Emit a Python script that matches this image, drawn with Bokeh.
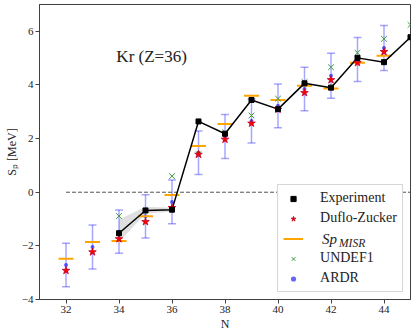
import numpy as np
from bokeh.plotting import figure
from bokeh.models import Range1d, Legend, LegendItem, Label, FixedTicker
from bokeh.embed import file_html
from bokeh.resources import INLINE

# ---------------- data ----------------
N_exp = [34, 35, 36, 37, 38, 39, 40, 41, 42, 43, 44, 45]
S_exp = [-1.53, -0.68, -0.65, 2.64, 2.18, 3.44, 3.10, 4.06, 3.90, 5.01, 4.85, 5.78]

N_band = [34, 35, 36]
band_lo = [-1.85, -0.80, -0.72]
band_hi = [-1.02, -0.54, -0.58]

N_th = [32, 33, 34, 35, 36, 37, 38, 39, 40, 41, 42, 43, 44]
S_dz = [-2.92, -2.23, -1.74, -1.10, -0.58, 1.41, 1.97, 2.57, 3.09, 3.71, 4.19, 4.83, 5.24]
S_misr = [-2.48, -1.86, -1.82, -0.90, -0.10, 1.72, 2.54, 3.60, 3.44, 3.97, 3.87, 4.83, 5.09]
S_ardr = [-2.71, -2.04, -1.47, -0.90, -0.36, 1.47, 2.08, 2.66, 3.22, 3.85, 4.34, 4.95, 5.38]
E_ardr = [0.81, 0.82, 0.81, 0.81, 0.82, 0.81, 0.82, 0.82, 0.82, 0.81, 0.84, 0.82, 0.84]

N_undef = [34, 36, 37, 38, 39, 40, 41, 42, 43, 44, 45]
S_undef = [-0.89, 0.60, 1.42, 2.24, 2.86, 3.49, 4.11, 4.66, 5.20, 5.72, 6.24]

zero_x = [32, 45]
zero_y = [0, 0]

x_ticks = [32, 34, 36, 38, 40, 42, 44]
y_ticks = [-4, -2, 0, 2, 4, 6]

title_text = "Kr (Z=36)"

FONT = "Liberation Serif"
TXT = "#222222"

# ---------------- figure ----------------
p = figure(width=415, height=333, x_range=Range1d(31, 45), y_range=Range1d(-4, 7),
           output_backend="svg", toolbar_location=None,
           min_border_left=39, min_border_right=5, min_border_top=4, min_border_bottom=34)

p.xgrid.visible = False
p.ygrid.visible = False
p.outline_line_color = "#404040"
p.outline_line_alpha = 1.0
p.background_fill_color = "white"

for ax in (p.xaxis, p.yaxis):
    ax.axis_line_color = "#404040"
    ax.major_tick_line_color = "#404040"
    ax.major_tick_in = 0
    ax.major_tick_out = 4
    ax.minor_tick_line_color = None
    ax.major_label_text_font = FONT
    ax.major_label_text_font_size = "11px"
    ax.major_label_text_color = TXT
    ax.major_label_standoff = 2
    ax.axis_label_text_font = FONT
    ax.axis_label_text_font_size = "12px"
    ax.axis_label_text_font_style = "normal"
    ax.axis_label_text_color = TXT

p.xaxis.ticker = FixedTicker(ticks=x_ticks)
p.yaxis.ticker = FixedTicker(ticks=y_ticks)
p.xaxis.major_label_overrides = {t: str(t) for t in x_ticks}
p.yaxis.major_label_overrides = {t: str(t).replace("-", "\u2212") for t in y_ticks}
p.xaxis.axis_label = "N"
p.yaxis.axis_label = "S\u209a [MeV]"
p.xaxis.axis_label_standoff = 1
p.yaxis.axis_label_standoff = 0

# ---------------- glyphs ----------------
p.varea(x=N_band, y1=band_lo, y2=band_hi, fill_color="gray", fill_alpha=0.25)
p.line(zero_x, zero_y, line_color="#555555", line_width=1, line_dash="4 2")

lo = [s - e for s, e in zip(S_ardr, E_ardr)]
hi = [s + e for s, e in zip(S_ardr, E_ardr)]
p.segment(x0=N_th, y0=lo, x1=N_th, y1=hi, line_color="blue", line_alpha=0.35, line_width=1.5)
p.scatter(N_th, lo, marker="dash", size=8, line_color="blue", line_alpha=0.35, line_width=1.5)
p.scatter(N_th, hi, marker="dash", size=8, line_color="blue", line_alpha=0.35, line_width=1.5)
ardr_dot = p.scatter(N_th, S_ardr, marker="circle", size=4, fill_color="blue", line_color=None, fill_alpha=0.6)

misr = p.scatter(N_th, S_misr, marker="dash", size=15, line_color="orange", line_width=2)

p.line(N_exp, S_exp, line_color="black", line_width=1.5)
undef = p.scatter(N_undef, S_undef, marker="x", size=8, line_color="#3a9a3a", line_width=1)
dz = p.scatter(N_th, S_dz, marker="star", size=8, fill_color="red", line_color="#c00020", line_width=0.8)
exp_sq = p.scatter(N_exp, S_exp, marker="square", size=5, fill_color="black", line_color="black")

# dummy renderers used only for legend entries
misr_leg = p.line([np.nan], [np.nan], line_color="orange", line_width=2)
blank_leg = p.line([np.nan], [np.nan], line_alpha=0)

p.add_layout(Label(x=33.9, y=4.69, text=title_text, text_font=FONT,
                   text_font_size="17px", text_color=TXT))

legend = Legend(items=[
    LegendItem(label="Experiment", renderers=[exp_sq]),
    LegendItem(label="Duflo-Zucker", renderers=[dz]),
    LegendItem(label=" ", renderers=[misr_leg]),
    LegendItem(label="UNDEF1", renderers=[undef]),
    LegendItem(label="ARDR", renderers=[ardr_dot]),
], location="bottom_right", margin=7, padding=5, spacing=4,
    glyph_width=20, glyph_height=13, label_height=16, label_standoff=17,
    label_text_font=FONT, label_text_font_size="14px", label_text_color=TXT,
    border_line_color="#cccccc", border_line_alpha=0.8, background_fill_alpha=1.0)
p.add_layout(legend)

# "Sp" with subscript "MISR" drawn as two transparent one-entry legends on top
leg_sp = Legend(items=[LegendItem(label="Sp", renderers=[blank_leg])],
                location=(282, 51), padding=0, margin=0, spacing=0,
                glyph_width=1, glyph_height=16, label_height=16, label_standoff=0,
                label_text_font=FONT, label_text_font_style="italic",
                label_text_font_size="15px", label_text_color=TXT,
                border_line_color=None, background_fill_alpha=0)
leg_misr = Legend(items=[LegendItem(label="MISR", renderers=[blank_leg])],
                  location=(299, 50), padding=0, margin=0, spacing=0,
                  glyph_width=1, glyph_height=12, label_height=12, label_standoff=0,
                  label_text_font=FONT, label_text_font_style="italic",
                  label_text_font_size="11.5px", label_text_color=TXT,
                  border_line_color=None, background_fill_alpha=0)
p.add_layout(leg_sp)
p.add_layout(leg_misr)

open("out.html", "w").write(file_html(p, INLINE))
